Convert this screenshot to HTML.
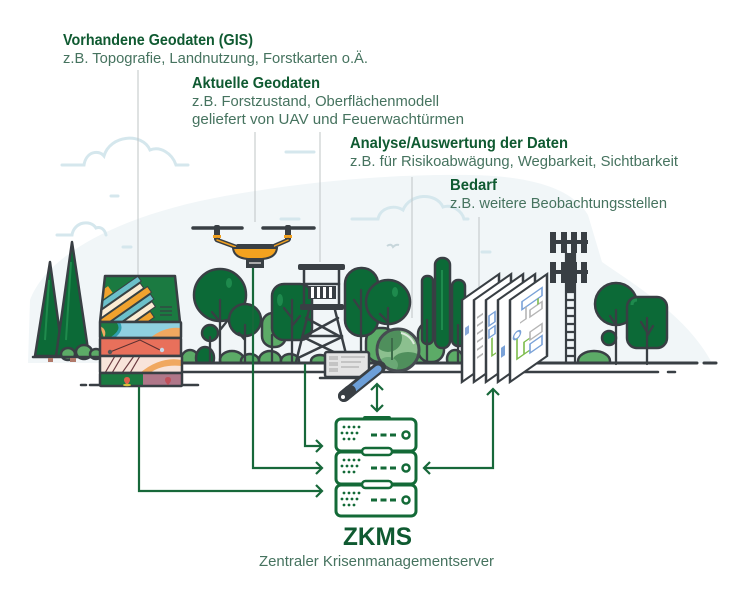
<!DOCTYPE html>
<html><head><meta charset="utf-8">
<style>
html,body{margin:0;padding:0;background:#fff}
svg{display:block}
text{font-family:"Liberation Sans",sans-serif}
.t{fill:#0f5a31;font-weight:bold}
.s{fill:#46735f}
.o{stroke:#393f44;stroke-width:2.5;stroke-linejoin:round;stroke-linecap:round}
.dg{fill:#0c6a37}
.lg{fill:#5cab67}
.cl{fill:none;stroke:#d5e7ed;stroke-width:3;stroke-linecap:round}
.ld{stroke:#bfc4c6;stroke-width:1;fill:none}
.cn{stroke:#17683a;stroke-width:2.2;fill:none;stroke-linejoin:miter}
</style></head><body>
<svg width="751" height="600" viewBox="0 0 751 600" xmlns="http://www.w3.org/2000/svg">
<defs>
<clipPath id="c1"><path d="M105,276 L175,276 L180,322 L100,322 Z"/></clipPath>
<clipPath id="c2"><rect x="100" y="322" width="81" height="16"/></clipPath>
<clipPath id="c4"><rect x="100" y="356" width="82" height="17"/></clipPath>
<clipPath id="gnd"><rect x="0" y="0" width="751" height="363"/></clipPath>
<clipPath id="mag"><circle cx="398" cy="350" r="21"/></clipPath>
</defs>
<rect width="751" height="600" fill="#fff"/>

<!-- background hill -->
<path d="M28,363 L30,300 C48,252 125,214 225,196 C305,182 385,174 470,175 C530,176 572,188 588,215 L602,262 C640,288 688,318 712,363 Z" fill="#f1f6f8"/>

<!-- clouds -->
<path class="cl" d="M62,165 H84 C86,152 98,149 104,156 C110,135 142,132 150,150 C160,146 172,153 176,165 H188"/>
<path class="cl" d="M352,219 H378 C380,208 394,204 403,210 C410,193 436,192 443,207 C452,204 462,211 464,219 H468"/>
<path class="cl" d="M57,235 H72 C74,222 90,219 96,228 C101,226 105,230 106,235"/>
<g stroke="#d5e7ed" stroke-width="3" stroke-linecap="round">
<line x1="286" y1="152" x2="314" y2="152"/>
<line x1="111" y1="196" x2="118" y2="196"/>
<line x1="123" y1="247" x2="131" y2="247"/>
<line x1="281" y1="219" x2="299" y2="219"/>
<line x1="353" y1="219" x2="374" y2="219"/>
<line x1="482" y1="252" x2="490" y2="252"/>
</g>
<path d="M387,246 Q391,243 393,247 Q396,244 399,245" stroke="#c7d6db" stroke-width="2" fill="none"/>

<!-- leader lines -->
<g class="ld">
<line x1="138" y1="70" x2="138" y2="276"/>
<line x1="255" y1="132" x2="255" y2="222"/>
<line x1="320" y1="132" x2="320" y2="262"/>
<line x1="412" y1="177" x2="412" y2="318"/>
<line x1="479" y1="217" x2="479" y2="290"/>
</g>

<!-- texts -->
<text class="t" x="63" y="45" font-size="16" textLength="190" lengthAdjust="spacingAndGlyphs">Vorhandene Geodaten (GIS)</text>
<text class="s" x="63" y="63" font-size="15" textLength="305" lengthAdjust="spacingAndGlyphs">z.B. Topografie, Landnutzung, Forstkarten o.Ä.</text>
<text class="t" x="192" y="88" font-size="16" textLength="128" lengthAdjust="spacingAndGlyphs">Aktuelle Geodaten</text>
<text class="s" x="192" y="106" font-size="15" textLength="247" lengthAdjust="spacingAndGlyphs">z.B. Forstzustand, Oberflächenmodell</text>
<text class="s" x="192" y="124" font-size="15" textLength="272" lengthAdjust="spacingAndGlyphs">geliefert von UAV und Feuerwachtürmen</text>
<text class="t" x="350" y="148" font-size="16" textLength="218" lengthAdjust="spacingAndGlyphs">Analyse/Auswertung der Daten</text>
<text class="s" x="350" y="166" font-size="15" textLength="328" lengthAdjust="spacingAndGlyphs">z.B. für Risikoabwägung, Wegbarkeit, Sichtbarkeit</text>
<text class="t" x="450" y="190" font-size="16" textLength="47" lengthAdjust="spacingAndGlyphs">Bedarf</text>
<text class="s" x="450" y="208" font-size="15" textLength="217" lengthAdjust="spacingAndGlyphs">z.B. weitere Beobachtungsstellen</text>
<text class="t" x="343" y="545" font-size="25" textLength="69" lengthAdjust="spacingAndGlyphs">ZKMS</text>
<text class="s" x="259" y="566" font-size="15" textLength="235" lengthAdjust="spacingAndGlyphs">Zentraler Krisenmanagementserver</text>

<!-- left conifers -->
<g class="o">
<polygon class="dg" points="50,262 35,356 63,356"/>
<polygon class="dg" points="72,242 56,356 89,356"/>
</g>
<path d="M49,280 L45,340" stroke="#1f8a4c" stroke-width="2"/>
<path d="M71,262 L66,340" stroke="#1f8a4c" stroke-width="2"/>
<g class="o lg">
<ellipse cx="68" cy="354" rx="7" ry="6"/>
<ellipse cx="84" cy="352" rx="8" ry="7"/>
<ellipse cx="96" cy="354" rx="6" ry="5"/>
</g>
<line x1="33" y1="357" x2="100" y2="357" class="o"/>
<rect x="48" y="358" width="5" height="4" fill="#b0796a"/>
<rect x="70" y="358" width="6" height="4" fill="#b0796a"/>

<!-- ground bushes -->
<g clip-path="url(#gnd)">
<g class="o lg">
<ellipse cx="190" cy="360" rx="9" ry="10"/>
<ellipse cx="232" cy="360" rx="12" ry="9"/>
<ellipse cx="250" cy="361" rx="9" ry="7"/>
<ellipse cx="270" cy="360" rx="11" ry="9"/>
<ellipse cx="290" cy="361" rx="9" ry="7"/>
<ellipse cx="320" cy="361" rx="9" ry="6"/>
<ellipse cx="372" cy="360" rx="10" ry="8"/>
<ellipse cx="418" cy="360" rx="8" ry="7"/>
<ellipse cx="455" cy="359" rx="8" ry="9"/>
<ellipse cx="594" cy="361" rx="16" ry="10"/>
</g>
<g class="o dg">
<ellipse cx="205" cy="358" rx="9" ry="11"/>
</g>
</g>

<!-- trees left of tower -->
<g class="o">
<rect class="lg" x="262" y="313" width="24" height="34" rx="11"/>
<circle class="dg" cx="220" cy="295" r="26"/>
<circle class="dg" cx="245" cy="320" r="16"/>
<circle class="dg" cx="210" cy="333" r="8"/>
<rect class="dg" x="272" y="284" width="40" height="56" rx="12"/>
</g>
<ellipse cx="229" cy="283" rx="3" ry="5" fill="#1e8a4d"/>
<ellipse cx="280" cy="300" rx="3" ry="6" fill="#1e8a4d"/>
<g stroke="#393f44" stroke-width="2.3" fill="none" stroke-linecap="round">
<path d="M220,362 V300 M220,322 L212,312 M220,330 L228,320"/>
<path d="M245,362 V325 M245,340 L239,333"/>
<path d="M210,362 V337"/>
<path d="M292,362 V300 M292,318 L284,308 M292,326 L300,316"/>
<path d="M272,362 V335"/>
</g>

<!-- tower -->
<g stroke="#393f44" stroke-width="2.5" stroke-linecap="round" fill="none">
<line x1="304" y1="270" x2="304" y2="306"/>
<line x1="339" y1="270" x2="339" y2="306"/>
<line x1="304" y1="284" x2="339" y2="284"/>
<line x1="309" y1="310" x2="296" y2="362"/>
<line x1="335" y1="310" x2="348" y2="362"/>
<line x1="306" y1="318" x2="339" y2="336"/>
<line x1="338" y1="318" x2="305" y2="336"/>
<line x1="303" y1="336" x2="342" y2="336"/>
<line x1="303" y1="337" x2="346" y2="358"/>
<line x1="342" y1="337" x2="298" y2="358"/>
</g>
<rect x="298" y="264" width="47" height="6" rx="2" fill="#393f44"/>
<rect x="308" y="286" width="28" height="13" fill="#393f44"/>
<g fill="#fff"><rect x="311" y="287" width="3" height="11"/><rect x="317" y="287" width="3" height="11"/><rect x="323" y="287" width="3" height="11"/><rect x="329" y="287" width="3" height="11"/></g>
<rect x="300" y="304" width="44" height="6" rx="2" fill="#393f44"/>

<!-- trees right of tower -->
<g class="o">
<rect class="lg" x="366" y="328" width="30" height="34" rx="13"/>
<rect class="dg" x="345" y="268" width="33" height="68" rx="16"/>
<circle class="dg" cx="388" cy="302" r="22"/>
<rect class="lg" x="418" y="322" width="26" height="40" rx="12"/>
<rect class="dg" x="422" y="276" width="11" height="68" rx="5"/>
<rect class="dg" x="435" y="258" width="15" height="90" rx="7"/>
<rect class="dg" x="452" y="280" width="13" height="66" rx="6"/>
</g>
<ellipse cx="395" cy="292" rx="3" ry="5" fill="#1e8a4d"/>
<line x1="442" y1="270" x2="442" y2="330" stroke="#1e8a4d" stroke-width="2"/>
<g stroke="#393f44" stroke-width="2.3" fill="none" stroke-linecap="round">
<path d="M361,362 V290 M361,310 L354,300"/>
<path d="M388,362 V308 M388,322 L380,314"/>
<path d="M427,362 V320"/>
<path d="M458,362 V325"/>
</g>

<!-- cell tower -->
<g stroke="#393f44" stroke-width="2.2" fill="none">
<line x1="566" y1="252" x2="566" y2="364"/>
<line x1="575" y1="252" x2="575" y2="364"/>
<path d="M566,292 H575 M566,300 H575 M566,308 H575 M566,316 H575 M566,324 H575 M566,332 H575 M566,340 H575 M566,348 H575 M566,356 H575"/>
</g>
<g fill="#393f44">
<rect x="550" y="240" width="38" height="4"/>
<rect x="550" y="232" width="6" height="21"/><rect x="561" y="232" width="6" height="21"/><rect x="571" y="232" width="6" height="21"/><rect x="581" y="232" width="6" height="21"/>
<rect x="550" y="270" width="38" height="4"/>
<rect x="550" y="262" width="6" height="21"/><rect x="561" y="262" width="6" height="21"/><rect x="571" y="262" width="6" height="21"/><rect x="581" y="262" width="6" height="21"/>
<rect x="567" y="253" width="8" height="38"/>
</g>

<!-- right trees -->
<g class="o">
<circle class="dg" cx="616" cy="304" r="21"/>
<circle class="dg" cx="609" cy="338" r="7"/>
<rect class="dg" x="627" y="297" width="40" height="51" rx="10"/>
</g>
<path d="M632,305 Q632,300 637,300" stroke="#1e8a4d" stroke-width="3" fill="none"/>
<g stroke="#393f44" stroke-width="2.3" fill="none" stroke-linecap="round">
<path d="M616,364 V310 M616,325 L610,316"/>
<path d="M647,364 V318 M647,332 L641,322 M647,336 L653,326"/>
</g>

<!-- ground lines -->
<g stroke="#393f44" stroke-linecap="round">
<line x1="180" y1="363" x2="697" y2="363" stroke-width="3"/>
<line x1="704" y1="363" x2="716" y2="363" stroke-width="3"/>
<line x1="183" y1="372" x2="658" y2="372" stroke-width="2.5"/>
<line x1="668" y1="372" x2="675" y2="372" stroke-width="2.5"/>
<line x1="90" y1="385" x2="198" y2="385" stroke-width="2.5"/>
<line x1="81" y1="385" x2="86" y2="385" stroke-width="2.5"/>
</g>

<!-- map stack -->
<g>
<path d="M105,276 L175,276 L180,322 L100,322 Z" fill="#1b7a41"/>
<g clip-path="url(#c1)">
<g transform="rotate(-35 130 300)">
<rect x="80" y="276" width="40" height="8" fill="#f0a22e"/>
<rect x="95" y="285" width="55" height="6" fill="#6cc0ca" stroke="#393f44" stroke-width="1"/>
<rect x="88" y="292" width="60" height="6" fill="#fbecd4" stroke="#393f44" stroke-width="1"/>
<rect x="82" y="299" width="70" height="7" fill="#f0a22e" stroke="#393f44" stroke-width="1"/>
<rect x="92" y="307" width="58" height="6" fill="#6cc0ca" stroke="#393f44" stroke-width="1"/>
<rect x="85" y="314" width="62" height="6" fill="#fbecd4" stroke="#393f44" stroke-width="1"/>
<rect x="90" y="321" width="50" height="7" fill="#f0a22e" stroke="#393f44" stroke-width="1"/>
<rect x="95" y="329" width="40" height="6" fill="#6cc0ca" stroke="#393f44" stroke-width="1"/>
<rect x="100" y="336" width="30" height="6" fill="#fbecd4"/>
</g>
</g>
<g stroke="#393f44" stroke-width="1.2"><line x1="160" y1="307" x2="172" y2="307"/><line x1="160" y1="311" x2="172" y2="311"/><line x1="160" y1="315" x2="172" y2="315"/></g>
<path d="M105,276 L175,276 L180,322 L100,322 Z" class="o" fill="none"/>

<rect x="100" y="322" width="81" height="16" fill="#1b7a41"/>
<g clip-path="url(#c2)">
<path d="M118,322 L181,322 L181,338 L112,338 Q124,330 118,322Z" fill="#8fd0e0"/>
<path d="M150,338 Q165,326 181,328 L181,338 Z" fill="#f0a860"/>
<path d="M100,326 Q108,330 104,338" fill="#f0a860"/>
<path d="M112,338 Q124,330 118,322" stroke="#2f9fb0" stroke-width="3" fill="none"/>
</g>
<rect x="100" y="322" width="81" height="16" class="o" fill="none" rx="1"/>

<rect x="100" y="338" width="81" height="18" fill="#e8705b" class="o" rx="1"/>
<path d="M110,352 L140,340 L160,350" stroke="#5a3030" stroke-width="1" fill="none"/>
<circle cx="110" cy="352" r="2.2" fill="#555"/><circle cx="162" cy="350" r="2.2" fill="#c8d8e8"/>

<rect x="100" y="356" width="82" height="17" fill="#f8e4da"/>
<g clip-path="url(#c4)">
<path d="M140,373 Q160,356 182,360 L182,366 Q162,364 150,373Z" fill="#f0a860"/>
<g stroke="#6a3a40" stroke-width="1.2"><line x1="105" y1="373" x2="115" y2="356"/><line x1="112" y1="373" x2="122" y2="356"/><line x1="122" y1="373" x2="134" y2="356"/><line x1="130" y1="373" x2="140" y2="356"/></g>
</g>
<rect x="100" y="356" width="82" height="17" class="o" fill="none" rx="1"/>

<rect x="100" y="373" width="43" height="13" fill="#1b7a41"/>
<rect x="143" y="373" width="39" height="13" fill="#b07789"/>
<rect x="100" y="373" width="82" height="13" class="o" fill="none" rx="1"/>
<path d="M127,377 q-3,0 -3,3 q0,2 3,5 q3,-3 3,-5 q0,-3 -3,-3z" fill="#e0604a"/>
<ellipse cx="127" cy="385" rx="4" ry="1.3" fill="#d4c23a"/>
<path d="M168,377 q-3,0 -3,3 q0,2 3,5 q3,-3 3,-5 q0,-3 -3,-3z" fill="#c0505a"/>
</g>

<!-- drone -->
<g>
<line x1="193" y1="228" x2="242" y2="228" stroke="#393f44" stroke-width="3.5" stroke-linecap="round"/>
<line x1="263" y1="228" x2="314" y2="228" stroke="#393f44" stroke-width="3.5" stroke-linecap="round"/>
<rect x="214" y="225" width="6" height="16" rx="2" fill="#393f44"/>
<rect x="285" y="225" width="6" height="16" rx="2" fill="#393f44"/>
<rect x="213" y="235" width="8" height="3" fill="#f0a020"/>
<rect x="284" y="235" width="8" height="3" fill="#f0a020"/>
<path d="M217,240 L236,247 M288,240 L272,247" stroke="#393f44" stroke-width="4.5" stroke-linecap="round"/>
<path d="M217,240 L236,247 M288,240 L272,247" stroke="#f0a020" stroke-width="1.5" stroke-linecap="round"/>
<rect x="236" y="244" width="38" height="4" rx="2" fill="#393f44"/>
<path d="M233,248 H277 Q276,258 262,259 H248 Q234,258 233,248Z" fill="#f3a21f" stroke="#393f44" stroke-width="2"/>
<rect x="246" y="259" width="18" height="9" fill="#393f44"/>
<rect x="249" y="262" width="12" height="2" fill="#aaa"/>
</g>

<!-- documents -->
<g>
<g transform="translate(462,300) skewY(-35)">
<rect x="0" y="0" width="37" height="82" fill="#fff" stroke="#393f44" stroke-width="2.5"/>
<rect x="3" y="30" width="4" height="8" fill="#8aa8d8"/>
</g>
<g transform="translate(474,300) skewY(-35)">
<rect x="0" y="0" width="37" height="82" fill="#fff" stroke="#393f44" stroke-width="2.5"/>
<g stroke="#b5b5b5" stroke-width="2"><line x1="3" y1="20" x2="9" y2="20"/><line x1="3" y1="28" x2="9" y2="28"/><line x1="3" y1="36" x2="9" y2="36"/><line x1="3" y1="44" x2="9" y2="44"/><line x1="3" y1="52" x2="9" y2="52"/><line x1="3" y1="60" x2="9" y2="60"/></g>
</g>
<g transform="translate(486,300) skewY(-35)">
<rect x="0" y="0" width="37" height="82" fill="#fff" stroke="#393f44" stroke-width="2.5"/>
<rect x="3" y="18" width="6" height="10" fill="none" stroke="#7aa2d8" stroke-width="1.6"/>
<rect x="3" y="32" width="6" height="8" fill="none" stroke="#7aa2d8" stroke-width="1.6"/>
<path d="M6,42 V60 H10" stroke="#7cbc4a" stroke-width="1.6" fill="none"/>
</g>
<g transform="translate(498,300) skewY(-35)">
<rect x="0" y="0" width="37" height="82" fill="#fff" stroke="#393f44" stroke-width="2.5"/>
<rect x="3" y="50" width="4" height="10" fill="#7aa2d8"/>
</g>
<g transform="translate(510,300) skewY(-35)">
<rect x="0" y="0" width="37" height="82" fill="#fff" stroke="#393f44" stroke-width="2.5"/>
<rect x="12" y="10" width="20" height="8" fill="none" stroke="#7aa2d8" stroke-width="1.6"/>
<path d="M16,18 V30 H10" stroke="#b5b5b5" stroke-width="1.6" fill="none"/>
<rect x="20" y="24" width="12" height="7" fill="none" stroke="#b5b5b5" stroke-width="1.6"/>
<path d="M28,18 V24" stroke="#7cbc4a" stroke-width="1.6"/>
<circle cx="7" cy="40" r="3.5" fill="none" stroke="#7aa2d8" stroke-width="1.6"/>
<path d="M7,44 V64 H20 M14,64 V52 H20" stroke="#7cbc4a" stroke-width="1.6" fill="none"/>
<rect x="20" y="46" width="12" height="8" fill="none" stroke="#b5b5b5" stroke-width="1.6"/>
<rect x="20" y="58" width="12" height="9" fill="none" stroke="#7aa2d8" stroke-width="1.6"/>
</g>
</g>

<!-- laptop -->
<rect x="325" y="352" width="44" height="25" rx="2" fill="#e4e4e4" stroke="#393f44" stroke-width="2.5"/>
<g fill="#c4c4c4"><rect x="329" y="356" width="9" height="4"/><rect x="329" y="362" width="9" height="4"/><rect x="329" y="368" width="9" height="4"/><rect x="341" y="356" width="24" height="2"/><rect x="341" y="361" width="20" height="2"/><rect x="341" y="366" width="18" height="2"/></g>
<line x1="320" y1="378" x2="373" y2="378" stroke="#393f44" stroke-width="2.5" stroke-linecap="round"/>

<!-- magnifier -->
<g clip-path="url(#mag)">
<rect x="370" y="325" width="60" height="50" fill="#8cc08f"/>
<circle cx="388" cy="338" r="14" fill="#4f8f5c"/>
<ellipse cx="408" cy="362" rx="16" ry="10" fill="#4f8f5c"/>
<ellipse cx="388" cy="365" rx="10" ry="8" fill="#6aa875"/>
<path d="M392,338 V360" stroke="#3d6b4a" stroke-width="2"/>
</g>
<circle cx="398" cy="350" r="21" fill="none" stroke="#464c51" stroke-width="3"/>
<path d="M401,333 A18,18 0 0 1 414,344" stroke="#fff" stroke-width="2" fill="none" opacity="0.7"/>
<line x1="380" y1="367" x2="344" y2="396" stroke="#393f44" stroke-width="12" stroke-linecap="round"/>
<line x1="378" y1="369" x2="347" y2="394" stroke="#6d9fd8" stroke-width="7" stroke-linecap="round"/>
<line x1="350" y1="391" x2="344" y2="396" stroke="#393f44" stroke-width="12" stroke-linecap="round"/>
<circle cx="343" cy="397" r="2" fill="#fff"/>

<!-- connectors -->
<g class="cn">
<path d="M139,387 V491 H322"/>
<path d="M316,485 L322,491 L316,497"/>
<path d="M253,268 V468 H322"/>
<path d="M316,462 L322,468 L316,474"/>
<path d="M305,364 V446 H322"/>
<path d="M316,440 L322,446 L316,452"/>
<path d="M377,384 V411"/>
<path d="M371,390 L377,384 L383,390"/>
<path d="M371,405 L377,411 L383,405"/>
<path d="M493,389 V468 H424"/>
<path d="M487,395 L493,389 L499,395"/>
<path d="M430,462 L424,468 L430,474"/>
</g>

<!-- server -->
<g stroke="#136a37" fill="#fff">
<rect x="336" y="419" width="80" height="32" rx="5" stroke-width="3"/>
<rect x="336" y="452" width="80" height="32" rx="5" stroke-width="3"/>
<rect x="336" y="485" width="80" height="31" rx="5" stroke-width="3"/>
<rect x="362" y="448" width="30" height="7" rx="3.5" stroke-width="2.5"/>
<rect x="362" y="481" width="30" height="7" rx="3.5" stroke-width="2.5"/>
</g>
<rect x="363" y="416" width="28" height="4" rx="2" fill="#136a37"/>
<g fill="#136a37">
<g id="dots">
<circle cx="344" cy="427" r="1.4"/><circle cx="349" cy="427" r="1.4"/><circle cx="354" cy="427" r="1.4"/><circle cx="359" cy="427" r="1.4"/>
<circle cx="342" cy="433" r="1.4"/><circle cx="347" cy="433" r="1.4"/><circle cx="352" cy="433" r="1.4"/><circle cx="357" cy="433" r="1.4"/>
<circle cx="344" cy="439" r="1.4"/><circle cx="349" cy="439" r="1.4"/><circle cx="354" cy="439" r="1.4"/>
</g>
<use href="#dots" y="33"/>
<use href="#dots" y="66"/>
</g>
<g stroke="#136a37" fill="none">
<line x1="371" y1="435" x2="399" y2="435" stroke-width="3" stroke-dasharray="6 3.5"/>
<circle cx="406" cy="435" r="3.5" stroke-width="2.5"/>
<line x1="371" y1="468" x2="399" y2="468" stroke-width="3" stroke-dasharray="6 3.5"/>
<circle cx="406" cy="468" r="3.5" stroke-width="2.5"/>
<line x1="371" y1="500" x2="399" y2="500" stroke-width="3" stroke-dasharray="6 3.5"/>
<circle cx="406" cy="500" r="3.5" stroke-width="2.5"/>
</g>
</svg>
</body></html>
